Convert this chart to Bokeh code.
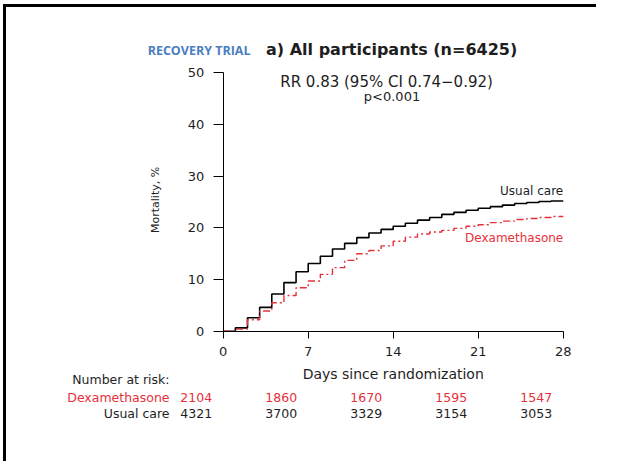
import math
from bokeh.plotting import figure
from bokeh.layouts import column, row
from bokeh.models import Label, LabelSet, ColumnDataSource, Range1d, LinearAxis, FixedTicker, Spacer
from bokeh.core.properties import value
from bokeh.embed import file_html
from bokeh.resources import INLINE

# ---- data ----
days = list(range(0, 29))
usual_care = [0, 0.65, 2.6, 4.6, 7.2, 9.4, 11.5, 13.1, 14.5, 15.9, 17.0, 18.1, 19.0, 19.7,
              20.3, 20.9, 21.5, 22.0, 22.6, 23.0, 23.4, 23.8, 24.1, 24.4, 24.7, 24.9, 25.1, 25.2, 25.2]
dexamethasone = [0, 0.4, 2.2, 3.9, 5.5, 6.9, 8.4, 9.7, 11.0, 12.3, 13.7, 15.0, 15.6, 16.5,
                 17.4, 18.2, 18.8, 19.2, 19.5, 19.9, 20.3, 20.6, 21.0, 21.3, 21.6, 21.8, 22.0, 22.2, 22.2]
x_ticks = [0, 7, 14, 21, 28]
y_ticks = [0, 10, 20, 30, 40, 50]
risk_days = [0, 7, 14, 21, 28]
risk_dexa = ["2104", "1860", "1670", "1595", "1547"]
risk_usual = ["4321", "3700", "3329", "3154", "3053"]

title_text = "a) All participants (n=6425)"
trial_text = "RECOVERY TRIAL"
rr_text = "RR 0.83 (95% CI 0.74\u22120.92)"
p_text = "p<0.001"

RED = "#e8303a"
DARK = "#1e1e1e"
BLUE = "#4a7ebf"
FONT = "DejaVu Sans"

# frame covers (almost) the whole canvas; axes are pinned at x=0 / y=0
p = figure(width=590, height=454, output_backend="svg", toolbar_location=None,
           x_range=Range1d(-14.14, 30.74), y_range=Range1d(-18.25, 61.67),
           x_axis_location=None, y_axis_location=None,
           min_border_left=45, min_border_right=0, min_border_top=5, min_border_bottom=36)
p.outline_line_color = None
p.xgrid.visible = False
p.ygrid.visible = False
p.background_fill_color = "white"
p.border_fill_color = "white"

xaxis = LinearAxis(fixed_location=0, bounds=(0, 28), ticker=FixedTicker(ticks=x_ticks))
yaxis = LinearAxis(fixed_location=0, bounds=(0, 50), ticker=FixedTicker(ticks=y_ticks))
for ax in (xaxis, yaxis):
    ax.axis_line_color = "black"
    ax.major_tick_line_color = "black"
    ax.major_tick_in = 0
    ax.minor_tick_in = 0
    ax.minor_tick_out = 0
    ax.major_label_text_font = FONT
    ax.major_label_text_font_size = "13px"
    ax.major_label_text_color = DARK
    ax.major_label_standoff = 9
xaxis.major_tick_out = 7
yaxis.major_tick_out = 10
p.add_layout(xaxis, "below")
p.add_layout(yaxis, "left")

p.step(days, usual_care, mode="after", line_color="black", line_width=1.6)
p.step(days, dexamethasone, mode="after", line_color=RED, line_width=1.4, line_dash="7 3 2 3")

def lab(x, y, text, size, color=DARK, align="center", style="normal", font=FONT, angle=0.0):
    p.add_layout(Label(x=x, y=y, text=text, text_font=font, text_font_size=size,
                       text_color=color, text_align=align, text_baseline="middle",
                       text_font_style=style, angle=angle))

lab(13.87, 54.6, title_text, "16px", style="bold")
lab(2.25, 54.4, trial_text, "12.5px", color=BLUE, align="right", style="bold", font="Open Sans")
lab(13.45, 48.3, rr_text, "15px")
lab(13.9, 45.4, p_text, "13px")
lab(28, 27.1, "Usual care", "12px", align="right")
lab(28, 18.1, "Dexamethasone", "12px", color=RED, align="right")
lab(-5.58, 25.4, "Mortality, %", "11px", angle=math.pi / 2)
lab(14, -8.38, "Days since randomization", "14px")
lab(-4.42, -9.35, "Number at risk:", "12.5px", align="right")
lab(-4.42, -12.8, "Dexamethasone", "12.5px", color=RED, align="right")
lab(-4.42, -15.9, "Usual care", "12.5px", align="right")

src_d = ColumnDataSource(dict(x=risk_days, y=[-12.8] * len(risk_days), t=risk_dexa))
src_u = ColumnDataSource(dict(x=risk_days, y=[-15.9] * len(risk_days), t=risk_usual))
for src, col in ((src_d, RED), (src_u, DARK)):
    p.add_layout(LabelSet(x="x", y="y", text="t", source=src, x_offset=-27,
                          text_font=value(FONT), text_font_size=value("12.5px"),
                          text_color=col, text_align="center", text_baseline="middle"))

# page frame: black bars along the top and left edge
top_bar = Spacer(width=593, height=3, background="black")
left_bar = Spacer(width=3, height=454, background="black")
page = column(top_bar, row(left_bar, p, spacing=0), spacing=0)
page.styles = {"margin-left": "3px", "margin-top": "4px"}

open("out.html", "w").write(file_html(page, INLINE))
